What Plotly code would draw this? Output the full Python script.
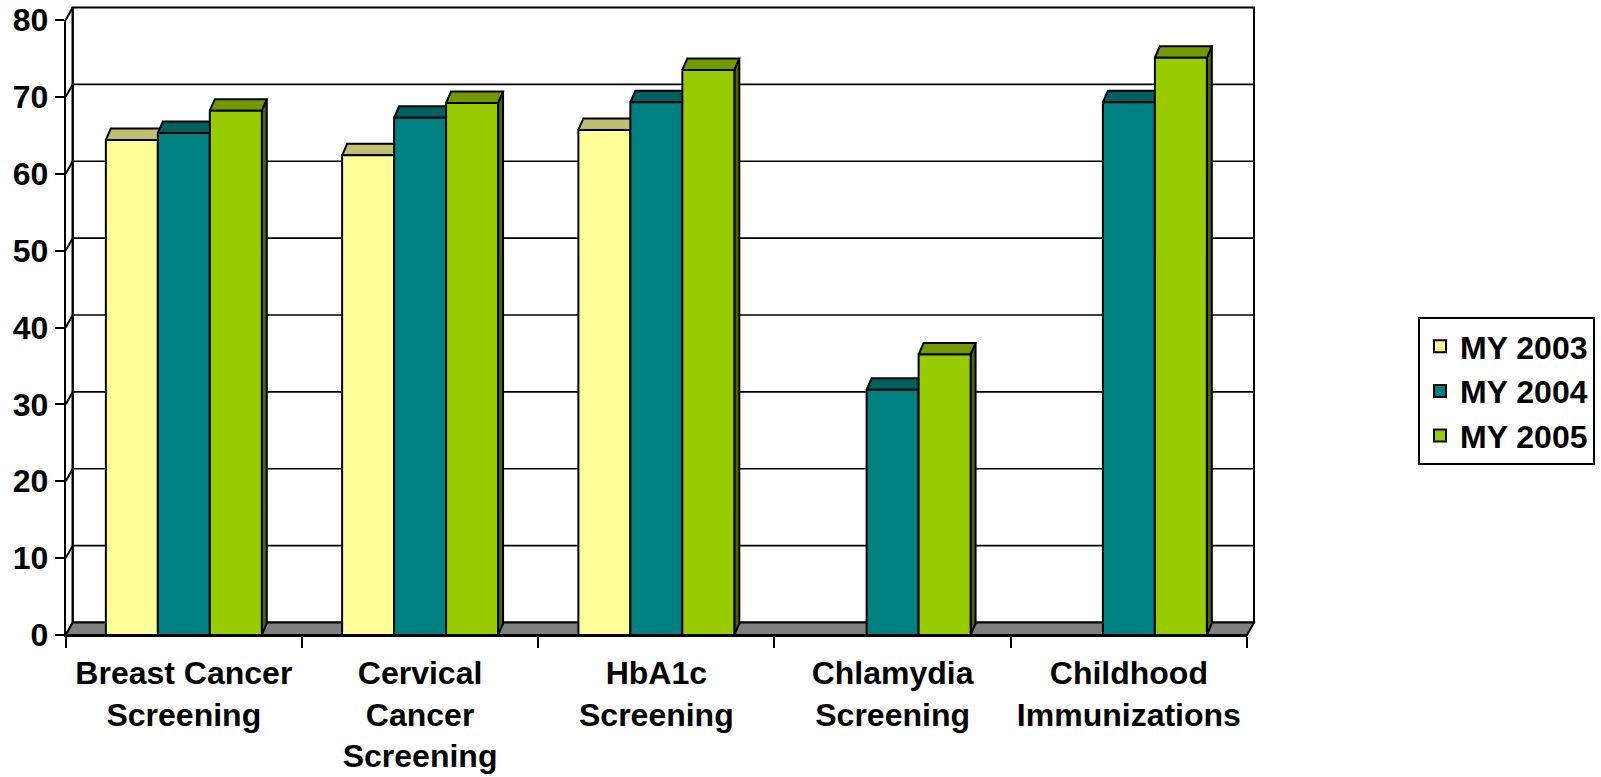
import plotly.graph_objects as go

# ---- data -------------------------------------------------------------
categories = [
    "Breast Cancer<br>Screening",
    "Cervical<br>Cancer<br>Screening",
    "HbA1c<br>Screening",
    "Chlamydia<br>Screening",
    "Childhood<br>Immunizations",
]
series_names = ["MY 2003", "MY 2004", "MY 2005"]
my2003 = [64.4, 62.4, 65.7, None, None]
my2004 = [65.3, 67.3, 69.3, 31.9, 69.3]
my2005 = [68.2, 69.2, 73.5, 36.5, 75.1]
y_ticks = [0, 10, 20, 30, 40, 50, 60, 70, 80]

# ---- styling ----------------------------------------------------------
front_colors = ["#FFFF99", "#008080", "#99CC00"]
top_colors = ["#BFBF73", "#006060", "#739900"]
side_colors = ["#80804D", "#004040", "#4D6600"]
FONT = "Liberation Sans, Arial, sans-serif"

W, H = 1601, 777
PLOT_L, PLOT_R, PLOT_T, PLOT_B = 65.7, 1247.0, 20.0, 635.0
Y_MAX = 80
N = len(categories)
BARGAP = 0.34

sx = (PLOT_R - PLOT_L) / N          # px per category
sy = (PLOT_B - PLOT_T) / Y_MAX      # px per value unit

# depth of the pseudo-3D box (walls) and of the columns, in data units
wdx, wdy = 7.0 / sx, 12.5 / sy
bdx, bdy = 5.0 / sx, 11.5 / sy

# extended ranges for the background subplot (walls, floor, faces)
XR = [-0.56, N - 0.5 + 0.1]
YR = [-1.0, 82.5]


def px_domain_x(lo, hi):
    return [lo / W, hi / W]


def px_domain_y(top, bottom):
    return [1 - bottom / H, 1 - top / H]


bg_x_dom = px_domain_x(PLOT_L + (XR[0] + 0.5) * sx, PLOT_R + (XR[1] - (N - 0.5)) * sx)
bg_y_dom = px_domain_y(PLOT_B - YR[1] * sy, PLOT_B - YR[0] * sy)
fg_x_dom = px_domain_x(PLOT_L, PLOT_R)
fg_y_dom = px_domain_y(PLOT_T, PLOT_B)

fig = go.Figure()


def poly(xs, ys, fill, width=2):
    fig.add_trace(go.Scatter(
        x=xs + [xs[0]], y=ys + [ys[0]], mode="lines", fill="toself",
        fillcolor=fill, line=dict(color="black", width=width),
        hoverinfo="skip", showlegend=False, xaxis="x", yaxis="y",
    ))


# back wall
x0, x1 = -0.5 + wdx, N - 0.5 + wdx
poly([x0, x1, x1, x0], [wdy, wdy, Y_MAX + wdy, Y_MAX + wdy], "white")

# gridlines on the back wall
gx, gy = [], []
for v in y_ticks[1:-1]:
    gx += [x0, x1, None]
    gy += [v + wdy, v + wdy, None]
fig.add_trace(go.Scatter(x=gx, y=gy, mode="lines", line=dict(color="black", width=1.6),
                         hoverinfo="skip", showlegend=False, xaxis="x", yaxis="y"))

# left wall: back edge and diagonals at each tick
lx, ly = [x0, x0, None], [wdy, Y_MAX + wdy, None]
for v in y_ticks:
    lx += [-0.5, x0, None]
    ly += [v, v + wdy, None]
fig.add_trace(go.Scatter(x=lx, y=ly, mode="lines", line=dict(color="black", width=2),
                         hoverinfo="skip", showlegend=False, xaxis="x", yaxis="y"))

# floor
poly([-0.5, N - 0.5, N - 0.5 + wdx, -0.5 + wdx], [0, 0, wdy, wdy], "#808080")

# top and side faces of the columns
series = [my2003, my2004, my2005]
n_s = len(series)
group_w = 1 - BARGAP
bar_w = group_w / n_s
for i in range(N):
    for k in range(n_s):
        h = series[k][i]
        if h is None:
            continue
        xl = i - group_w / 2 + k * bar_w
        xr = xl + bar_w
        poly([xr, xr + bdx, xr + bdx, xr], [0, bdy, h + bdy, h], side_colors[k])
        poly([xl, xr, xr + bdx, xl + bdx], [h, h, h + bdy, h + bdy], top_colors[k])

# front faces of the columns
for k in range(n_s):
    fig.add_trace(go.Bar(
        x=list(range(N)), y=series[k], name=series_names[k],
        marker=dict(color=front_colors[k], line=dict(color="black", width=2)),
        xaxis="x2", yaxis="y2", legendgroup=series_names[k],
    ))

fig.update_layout(
    width=W, height=H,
    margin=dict(l=0, r=0, t=0, b=0),
    paper_bgcolor="white", plot_bgcolor="rgba(0,0,0,0)",
    barmode="group", bargap=BARGAP, bargroupgap=0,
    font=dict(family=FONT, color="black"),
    xaxis=dict(domain=bg_x_dom, range=XR, visible=False, fixedrange=True),
    yaxis=dict(domain=bg_y_dom, range=YR, visible=False, fixedrange=True),
    xaxis2=dict(
        domain=fg_x_dom, anchor="y2", range=[-0.5, N - 0.5],
        tickmode="array", tickvals=[i - 0.5 for i in range(N + 1)],
        ticktext=[""] * (N + 1),
        ticks="outside", ticklen=11, tickwidth=2, tickcolor="black",
        showline=True, linewidth=2, linecolor="black",
        showgrid=False, zeroline=False, fixedrange=True, automargin=False,
    ),
    xaxis3=dict(
        domain=fg_x_dom, anchor="y2", overlaying="x2", range=[-0.5, N - 0.5],
        tickmode="array", tickvals=list(range(N)), ticktext=categories,
        ticks="", showline=False, showgrid=False, zeroline=False,
        tickfont=dict(family=FONT, size=32, weight="bold", color="black"),
        ticklabelstandoff=16, fixedrange=True, automargin=False, side="bottom",
    ),
    yaxis2=dict(
        domain=fg_y_dom, anchor="x2", range=[0, Y_MAX],
        tickmode="array", tickvals=y_ticks,
        ticks="outside", ticklen=9, tickwidth=2, tickcolor="black",
        showline=True, linewidth=2, linecolor="black",
        showgrid=False, zeroline=False, fixedrange=True, automargin=False,
        tickfont=dict(family=FONT, size=32, weight="bold", color="black"),
    ),
    legend=dict(
        x=1418 / W, y=1 - 317 / H, xanchor="left", yanchor="top",
        bordercolor="black", borderwidth=2, bgcolor="white",
        font=dict(family=FONT, size=32, weight="bold", color="black"),
        tracegroupgap=6, traceorder="normal",
    ),
    showlegend=True,
)

# invisible trace to attach the category labels axis
fig.add_trace(go.Scatter(x=[0], y=[0], xaxis="x3", yaxis="y2", mode="markers",
                         marker=dict(opacity=0), hoverinfo="skip", showlegend=False))

fig.write_html("out.html")
